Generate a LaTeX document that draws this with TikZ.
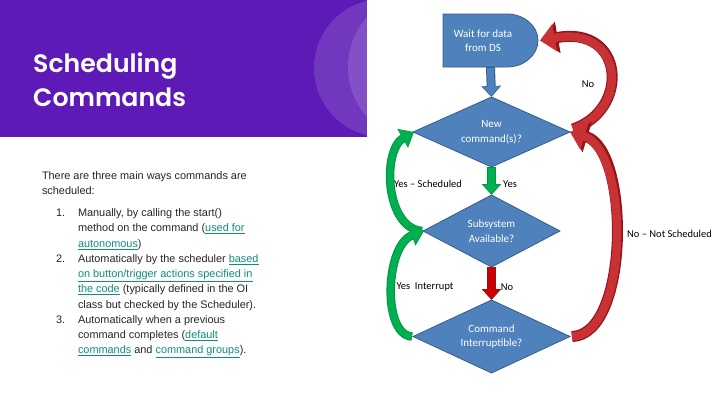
\documentclass[tikz,border=0pt]{standalone}
\usepackage{fontspec}
\setmainfont{Liberation Sans}
\newfontfamily\titlefont{Poppins SemiBold}
\newfontfamily\calib{Carlito}
\usetikzlibrary{shapes.geometric,arrows.meta}
\definecolor{purp}{RGB}{94,26,182}
\definecolor{bodyc}{RGB}{38,38,38}
\definecolor{linkc}{RGB}{17,140,128}
\definecolor{fbblue}{RGB}{79,129,189}
\definecolor{fbline}{RGB}{56,93,138}
\definecolor{redfill}{RGB}{200,50,52}
\definecolor{redline}{RGB}{150,20,25}
\definecolor{gfill}{RGB}{0,176,80}
\definecolor{gline}{RGB}{0,150,65}
\newcommand\mylink[1]{\textcolor{linkc}{\underline{#1}}}
\tikzset{
  body/.style={anchor=base west, inner sep=0, outer sep=0, text=bodyc, font=\fontsize{10.9}{12}\selectfont},
  dia/.style={diamond, aspect=2.2, fill=fbblue, draw=fbline, line width=0.8pt, inner sep=0, outer sep=0,
     text=white, align=center, font=\calib\fontsize{11}{14.5}\selectfont},
  wtext/.style={text=white, align=center, font=\calib\fontsize{11}{14.5}\selectfont},
  lbl/.style={text=black, font=\calib\fontsize{10.5}{12}\selectfont, inner sep=0},
  rout/.style={line width=11pt, draw=redline, -{Triangle[length=17pt,width=31pt]}},
  rin/.style={line width=8.5pt, draw=redfill, -{Triangle[length=15pt,width=27pt]}},
  gout/.style={line width=8.5pt, draw=gline, -{Triangle[length=13pt,width=21pt]}},
  gin/.style={line width=6.5pt, draw=gfill, -{Triangle[length=11.5pt,width=18pt]}},
  vout/.style={line width=9pt, -{Triangle[length=11pt,width=19pt]}},
  vin/.style={line width=7pt, -{Triangle[length=9.5pt,width=16pt]}},
}
\begin{document}
\begin{tikzpicture}[x=1pt,y=-1pt]
\useasboundingbox (0,0) rectangle (720,405);
\fill[white] (0,0) rectangle (720,405);
% header
\begin{scope}
\clip (0,0) rectangle (367,137);
\fill[purp] (0,0) rectangle (367,137);
\fill[white,opacity=0.13] (383,68) circle[radius=69pt];
\fill[white,opacity=0.13] (423,67) circle[radius=75pt];
\end{scope}
\node[anchor=base west, inner sep=0, text=white, font=\titlefont\fontsize{25.2}{30}\selectfont] (t1) at (33,72) {Scheduling};
\node[anchor=base west, inner sep=0, text=white, font=\titlefont\fontsize{25.2}{30}\selectfont] (t2) at (33,106.5) {Commands};
% body text
\node[body] (p1) at (42,179.5) {There are three main ways commands are};
\node[body] (p2) at (42,194.5) {scheduled:};
\node[body] (n1) at (56,216.7) {1.};
\node[body] (l1) at (78,216.7) {Manually, by calling the start()};
\node[body] (l2) at (78,231.95) {method on the command (\mylink{used for}};
\node[body] (l3) at (78,247.2) {\mylink{autonomous})};
\node[body] (n2) at (56,262.45) {2.};
\node[body] (l4) at (78,262.45) {Automatically by the scheduler \mylink{based}};
\node[body] (l5) at (78,277.7) {\mylink{on button/trigger actions specified in}};
\node[body] (l6) at (78,292.95) {\mylink{the code} (typically defined in the OI};
\node[body] (l7) at (78,308.2) {class but checked by the Scheduler).};
\node[body] (n3) at (56,323.45) {3.};
\node[body] (l8) at (78,323.45) {Automatically when a previous};
\node[body] (l9) at (78,338.7) {command completes (\mylink{default}};
\node[body] (l10) at (78,353.95) {\mylink{commands} and \mylink{command groups}).};
% flowchart
\node[minimum width=95pt, minimum height=53pt, inner sep=0, outer sep=0] (wait) at (490.5,40.5) {};
\filldraw[fill=fbblue, draw=fbline, line width=0.8pt] (wait.north west) -- ++(64,0)
  arc[start angle=90, end angle=-90, x radius=31pt, y radius=26.5pt] -- (wait.south west) -- cycle;
\node[wtext] (waitlbl) at (483,40.5) {Wait for data\\from DS};
\node[dia, minimum width=157pt, minimum height=70pt] (d1) at (491.5,132) {New\\command(s)?};
\node[dia, minimum width=137pt, minimum height=72pt] (d2) at (491.5,231) {Subsystem\\Available?};
\node[dia, minimum width=157pt, minimum height=73pt] (d3) at (491.5,336.5) {Command\\Interruptible?};
% straight arrows
\draw[vout, draw=fbline] (wait.south) -- (d1.north);
\draw[vin, draw=fbblue] ([yshift=-1pt]wait.south) -- ([yshift=1pt]d1.north);
\draw[vout, draw=gline] (d1.south) -- (d2.north);
\draw[vin, draw=gfill] ([yshift=-1pt]d1.south) -- ([yshift=1pt]d2.north);
\draw[vout, draw=redline] (d2.south) -- (d3.north);
\draw[vin, draw=red!80!black] ([yshift=-1pt]d2.south) -- ([yshift=1pt]d3.north);
% red curved
\draw[rout] ([shift={(3pt,3pt)}]d1.east) .. controls (630,110) and (625,25) .. ([xshift=3pt]wait.east);
\draw[rin] ([shift={(3pt,3pt)}]d1.east) .. controls (630,110) and (625,25) .. ([xshift=2pt]wait.east);
\draw[rout] ([xshift=2pt]d3.east) .. controls (630,335) and (630,150) .. ([xshift=1pt]d1.east);
\draw[rin] ([xshift=2pt]d3.east) .. controls (630,335) and (630,150) .. ([xshift=0pt]d1.east);
% green curved
\draw[gout] ([xshift=-1pt]d2.west) .. controls (385,228) and (382,150) .. ([xshift=1pt]d1.west);
\draw[gin] ([xshift=-1pt]d2.west) .. controls (385,228) and (382,150) .. (d1.west);
\draw[gout] ([xshift=-1pt]d3.west) .. controls (382,335) and (385,245) .. ([xshift=1pt]d2.west);
\draw[gin] ([xshift=-1pt]d3.west) .. controls (382,335) and (385,245) .. (d2.west);
% labels
\node[lbl] (lno1) at (588,84) {No};
\node[lbl] (lys) at (428,184) {Yes – Scheduled};
\node[lbl] (lyes) at (510,184) {Yes};
\node[lbl] (lyi) at (425,287) {Yes\ \ Interrupt};
\node[lbl] (lno2) at (507,287) {No};
\node[lbl] (lnns) at (669.5,234) {No – Not Scheduled};
\end{tikzpicture}
\end{document}
